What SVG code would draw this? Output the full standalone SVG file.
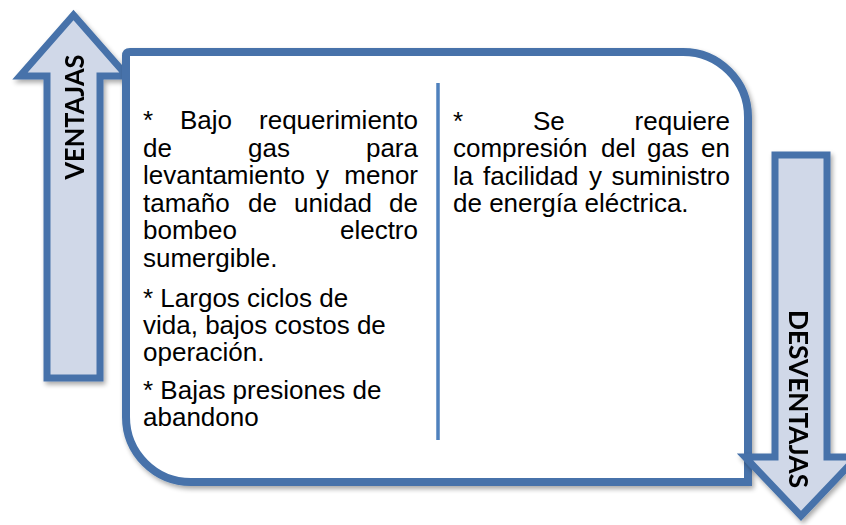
<svg xmlns="http://www.w3.org/2000/svg" width="846" height="525" viewBox="0 0 846 525">
<defs>
<filter id="sh" x="-10%" y="-10%" width="130%" height="130%">
<feGaussianBlur in="SourceAlpha" stdDeviation="2.5"/>
<feOffset dx="2" dy="3" result="b"/>
<feComponentTransfer><feFuncA type="linear" slope="0.35"/></feComponentTransfer>
<feMerge><feMergeNode/><feMergeNode in="SourceGraphic"/></feMerge>
</filter>
</defs>
<style>
.arrow{fill:#D0D8E8;stroke:#4672AA;stroke-width:7;stroke-linejoin:miter;stroke-miterlimit:10}
.box{fill:#FFFFFF;stroke:#4672AA;stroke-width:8}
.div{stroke:#4F81BD;stroke-width:3.5}
.t{font-family:"Liberation Sans",Arial,sans-serif;font-size:26px;fill:#000}
.e{text-anchor:end}
.lbl{font-family:Lato,"Liberation Sans",sans-serif;font-weight:700;font-size:26px;fill:#000;text-anchor:middle;dominant-baseline:central}
</style>
<rect width="846" height="525" fill="#FFFFFF"/>
<g id="connectors"/>
<g id="ventajas-arrow" filter="url(#sh)">
<path class="arrow" d="M73.5,15 L127,76 L100,76 L100,378 L47,378 L47,76 L20,76 Z"/>
<text class="lbl" transform="translate(74,117) rotate(-90)" textLength="125" lengthAdjust="spacingAndGlyphs">VENTAJAS</text>
</g>
<g id="main-box" filter="url(#sh)">
<path class="box" d="M126,56 Q126,52 130,52 L683,52 A65,65 0 0 1 748,117 L748,482 L191,482 A65,65 0 0 1 126,417 Z"/>
</g>
<g id="divider">
<line class="div" x1="438" y1="83" x2="438" y2="440"/>
</g>
<g id="ventajas-text">
<text class="t" x="143" y="129">*</text>
<text class="t" x="180" y="129">Bajo</text>
<text class="t e" x="418" y="129">requerimiento</text>
<text class="t" x="143" y="156.5">de</text>
<text class="t" x="248" y="156.5">gas</text>
<text class="t e" x="418" y="156.5">para</text>
<text class="t" x="143" y="184">levantamiento</text>
<text class="t" x="316" y="184">y</text>
<text class="t e" x="418" y="184">menor</text>
<text class="t" x="143" y="211.5">tamaño</text>
<text class="t" x="248" y="211.5">de</text>
<text class="t" x="294" y="211.5">unidad</text>
<text class="t e" x="418" y="211.5">de</text>
<text class="t" x="143" y="239">bombeo</text>
<text class="t e" x="418" y="239">electro</text>
<text class="t" x="143" y="266.5">sumergible.</text>
<text class="t" x="143" y="307">* Largos ciclos de</text>
<text class="t" x="143" y="334">vida, bajos costos de</text>
<text class="t" x="143" y="361">operación.</text>
<text class="t" x="143" y="399">* Bajas presiones de</text>
<text class="t" x="143" y="426">abandono</text>
</g>
<g id="desventajas-text">
<text class="t" x="453" y="129.5">*</text>
<text class="t" x="533" y="129.5">Se</text>
<text class="t e" x="730" y="129.5">requiere</text>
<text class="t" x="453" y="157">compresión</text>
<text class="t" x="601" y="157">del</text>
<text class="t" x="647" y="157">gas</text>
<text class="t e" x="730" y="157">en</text>
<text class="t" x="453" y="184.5">la</text>
<text class="t" x="483" y="184.5">facilidad</text>
<text class="t" x="589" y="184.5">y</text>
<text class="t e" x="730" y="184.5">suministro</text>
<text class="t" x="453" y="212">de energía eléctrica.</text>
</g>
<g id="desventajas-arrow" filter="url(#sh)">
<path class="arrow" d="M775,155 L827,155 L827,457 L857,457 L801,516 L745,457 L775,457 Z"/>
<text class="lbl" transform="translate(799,399) rotate(90)" textLength="178" lengthAdjust="spacingAndGlyphs">DESVENTAJAS</text>
</g>
</svg>
